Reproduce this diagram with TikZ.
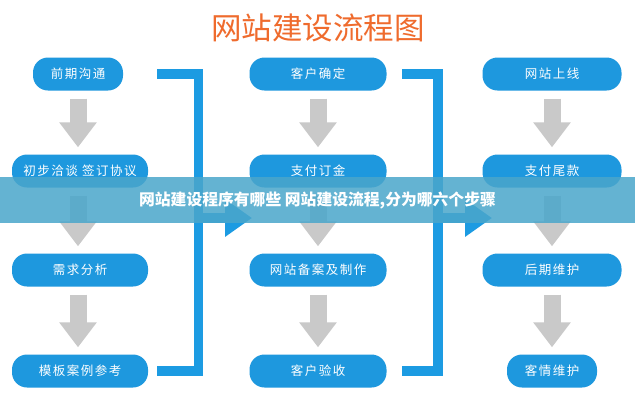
\documentclass[tikz,border=0pt]{standalone}
\usepackage{fontspec}
\setmainfont{Noto Sans CJK SC}
\newfontfamily\boxfont[LetterSpace=12]{Noto Sans CJK SC}
\usetikzlibrary{arrows.meta}
\definecolor{boxblue}{HTML}{1E98DE}
\definecolor{barblue}{HTML}{1C9BE2}
\definecolor{arrowgray}{HTML}{C9C9C9}
\definecolor{titleorange}{HTML}{EF6B2D}
\definecolor{bannerblue}{HTML}{4AA6CB}

\begin{document}
\begin{tikzpicture}[x=1pt,y=-1pt,
    stepbox/.style={fill=boxblue,text=white,rounded corners=15pt,minimum height=33pt,
      minimum width=136pt,inner sep=0pt,font=\boxfont\fontsize{12.5pt}{14pt}\selectfont},
    downarrow/.style={arrowgray,line width=17pt,-{Triangle[width=36pt,length=25pt]},
      shorten <=8pt,shorten >=7pt},
    bracket/.style={barblue,line width=9.5pt}]
    \fill[white] (0,0) rectangle (635,400);
    \useasboundingbox (0,0) rectangle (635,400);

    \node[text=titleorange,font=\fontsize{30.5pt}{32pt}\selectfont] (title) at (318,28) {网站建设流程图};

    % first column
    \node[stepbox,minimum width=90pt] (b1) at (78,74) {前期沟通};
    \node[stepbox] (b2) at (80,171) {初步洽谈 签订协议};
    \node[stepbox] (b3) at (80,270) {需求分析};
    \node[stepbox] (b4) at (80,371) {模板案例参考};

    % second column
    \node[stepbox,minimum width=137pt] (c1) at (318,74) {客户确定};
    \node[stepbox,minimum width=137pt] (c2) at (318,171) {支付订金};
    \node[stepbox,minimum width=137pt] (c3) at (318,270) {网站备案及制作};
    \node[stepbox,minimum width=137pt] (c4) at (318,371) {客户验收};

    % third column
    \node[stepbox,minimum width=139pt] (d1) at (552,74) {网站上线};
    \node[stepbox,minimum width=139pt] (d2) at (552,171) {支付尾款};
    \node[stepbox,minimum width=139pt] (d3) at (552,270) {后期维护};
    \node[stepbox,minimum width=90pt] (d4) at (552,371) {客情维护};

    \draw[downarrow] (b1.south) -- (b1.south |- b2.north);
    \draw[downarrow] (b2.south -| b1.south) -- (b1.south |- b3.north);
    \draw[downarrow] (b3.south -| b1.south) -- (b1.south |- b4.north);
    \draw[downarrow] (c1) -- (c2);
    \draw[downarrow] (c2) -- (c3);
    \draw[downarrow] (c3) -- (c4);
    \draw[downarrow] (d1) -- (d2);
    \draw[downarrow] (d2) -- (d3);
    \draw[downarrow] (d3) -- (d4);

    % brackets between the columns
    \coordinate (s1) at (157,0);
    \coordinate (j1) at (198.5,218);
    \coordinate (t1) at (252,218);
    \coordinate (s2) at (402,0);
    \coordinate (j2) at (438,218);
    \coordinate (t2) at (492,218);
    \draw[bracket] (b1.east -| s1) -| (j1);
    \draw[bracket] (b4.east -| s1) -| (j1);
    \draw[bracket,-{Triangle[width=36pt,length=27pt]}] (j1) -- (t1);
    \draw[bracket] (c1.east -| s2) -| (j2);
    \draw[bracket] (c4.east -| s2) -| (j2);
    \draw[bracket,-{Triangle[width=36pt,length=27pt]}] (j2) -- (t2);

    \node[fill=bannerblue,fill opacity=0.85,text opacity=1,text=white,minimum width=635pt,
      minimum height=46pt,inner sep=0pt,font=\bfseries\fontsize{15.8pt}{17pt}\selectfont]
      (banner) at (317.5,200) {网站建设程序有哪些 网站建设流程,分为哪六个步骤};
\end{tikzpicture}
\end{document}
